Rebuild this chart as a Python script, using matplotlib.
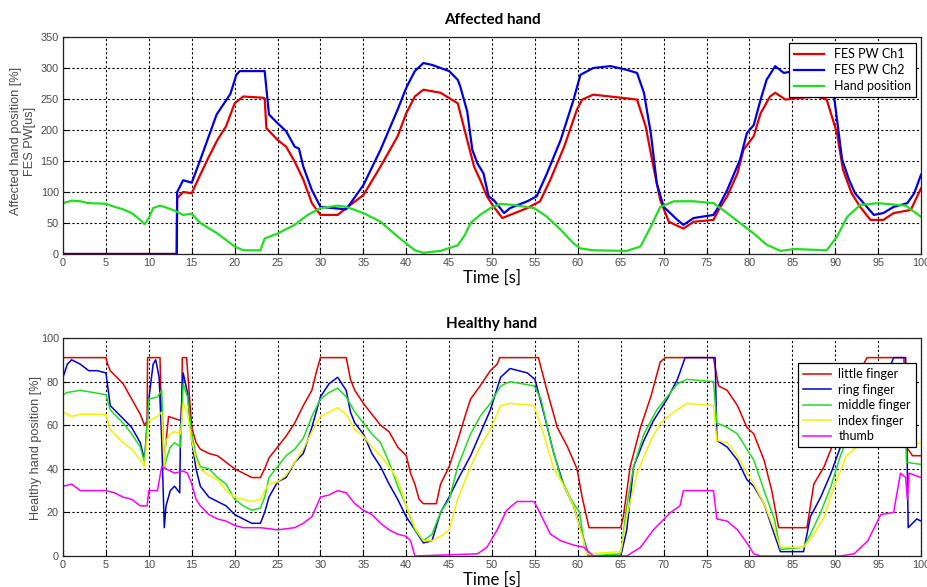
import numpy as np
import matplotlib
matplotlib.use('Agg')
import matplotlib.pyplot as plt

# values, (time [s], value)
ch1_pw = [(0, 0), (13.25, 0), (13.3, 90), (14, 100), (15, 98), (16, 128), (17, 157), (18, 184),
          (19, 206), (20, 243), (21, 254), (23.3, 252), (23.5, 251), (23.7, 203), (25, 184), (26, 173),
          (27, 149), (28, 120), (29, 82), (30, 63), (32, 63), (33, 74), (35, 95), (37, 141), (39, 190),
          (40, 227), (41, 254), (42, 265), (44, 260), (46, 243), (47.1, 184), (47.9, 141), (48.6, 120),
          (49.4, 93), (50.2, 76), (51.2, 58), (52.1, 63), (54.1, 74), (55.6, 85), (56.8, 120),
          (58.4, 173), (59.9, 233), (60.5, 249), (61.8, 257), (65.7, 251), (66.9, 249), (67.9, 206),
          (68.8, 141), (69.6, 87), (70.6, 52), (72.3, 41), (73.5, 52), (75.8, 55), (76.4, 71),
          (77.4, 93), (78.6, 130), (79.3, 168), (80.5, 190), (81.3, 227), (82.4, 254), (83, 260),
          (84.2, 249), (85.2, 251), (87.9, 254), (89, 249), (90.2, 195), (90.9, 136), (91.9, 98),
          (92.9, 76), (94.1, 55), (95.6, 55), (96.8, 66), (98.8, 71), (100, 106)]

ch2_pw = [(0, 0), (13.25, 0), (13.3, 100), (14, 119), (15, 115), (16, 152), (17.9, 225), (19.5, 258),
          (20.2, 289), (20.6, 295), (23.5, 295), (24, 225), (25, 211), (26, 198), (27, 173), (27.5, 170),
          (28, 141), (29, 103), (30, 76), (33, 72), (35, 111), (37, 168), (39, 233), (40, 268), (41, 295),
          (42, 308), (43, 305), (45, 295), (46, 281), (46.3, 270), (47.1, 230), (47.7, 168), (48.3, 146),
          (49, 130), (49.6, 93), (50.2, 87), (51.4, 66), (52.1, 74), (54.1, 85), (55.2, 93), (56.4, 130),
          (58, 184), (59.5, 249), (60.3, 289), (61.8, 300), (63.8, 303), (65.7, 297), (66.9, 292),
          (67.7, 260), (68.5, 195), (69.2, 114), (70, 76), (71.6, 55), (72.3, 47), (73.5, 58),
          (75.8, 63), (76.4, 76), (77.4, 103), (78.9, 152), (79.7, 195), (80.5, 208), (81.3, 249),
          (82, 281), (83, 303), (84, 292), (85.2, 295), (89.8, 260), (90.2, 217), (90.8, 152),
          (91.6, 120), (92.3, 98), (93.3, 82), (94.5, 63), (95.6, 66), (96.8, 76), (98.4, 82),
          (99.2, 98), (100, 128)]

hand_pos = [(0, 82), (1, 86), (2, 85), (3, 82), (5, 81), (6, 76), (7, 72), (8, 66), (9, 55), (9.5, 48),
            (10, 58), (10.5, 74), (11.3, 78), (12, 75), (13, 70), (14, 63), (15, 65), (16, 50), (18, 33),
            (20, 12), (21, 6), (23, 6), (23.5, 25), (25, 33), (27, 47), (28.5, 63), (30, 74), (32, 78),
            (33, 76), (35, 66), (37, 52), (39, 28), (41, 6), (42, 2), (44, 5), (46, 14), (46.8, 30),
            (47.5, 50), (48.6, 63), (49.8, 74), (51, 81), (52.5, 79), (54.9, 74), (56.4, 60), (58, 39),
            (59.5, 17), (60.3, 9), (61.8, 6), (65.7, 5), (67.3, 12), (68.5, 44), (69.6, 76), (71.2, 85),
            (73.5, 85), (75.8, 82), (77.4, 66), (78.9, 50), (80.5, 33), (82, 15), (83.6, 5), (85.2, 8),
            (89, 6), (90.2, 28), (91.4, 60), (92.9, 79), (95, 82), (98.2, 78), (100, 60)]

little = [(0, 91), (5, 91), (5.2, 88), (5.5, 85), (6, 83), (7, 79), (8, 72), (9, 65), (9.5, 60), (9.8, 62),
          (9.85, 91), (11.3, 91), (11.5, 60), (11.7, 41), (12.3, 64), (13.8, 62), (13.9, 91), (14.4, 91),
          (15, 59), (15.5, 52), (16, 49), (17, 47), (18, 46), (19, 43), (20, 40), (21, 38), (22, 36),
          (23, 36), (23.5, 40), (24, 45), (25, 50), (26, 55), (27, 61), (28, 69), (29, 76), (29.5, 84),
          (30, 91), (33, 91), (33.5, 81), (34, 76), (35, 70), (36, 65), (37, 60), (38, 57), (39, 50),
          (40, 46), (40.5, 38), (41, 33), (41.5, 26), (42, 24), (43.5, 24), (44, 33), (45, 41), (46, 53),
          (47, 66), (47.5, 72), (48.6, 78), (49.8, 85), (50.6, 88), (50.9, 91), (55.4, 91), (56.4, 76),
          (57.6, 59), (58.8, 50), (59.9, 40), (60.5, 27), (61.3, 13), (65, 13), (65.3, 18), (66.1, 41),
          (67.3, 59), (68.5, 73), (69.6, 89), (70.2, 91), (75.8, 91), (76.4, 78), (77.4, 76), (78.6, 69),
          (79.7, 59), (80.5, 56), (81.7, 44), (82.6, 30), (83.4, 13), (86.7, 13), (87.5, 33), (88.7, 41),
          (89.5, 49), (91, 65), (92.5, 82), (93.7, 91), (98, 91), (98.3, 50), (99, 46), (100, 46)]

ring = [(0, 82), (0.5, 88), (1, 90), (2, 88), (3, 85), (4, 85), (5, 84), (5.3, 75), (5.5, 69), (6, 67),
        (7, 63), (8, 59), (9, 52), (9.5, 44), (10, 72), (10.5, 88), (10.8, 90), (11.2, 82), (11.5, 53),
        (11.8, 13), (12, 23), (12.5, 30), (13, 32), (13.6, 29), (13.7, 60), (14, 84), (14.5, 75), (15, 53),
        (15.5, 40), (16, 32), (17, 27), (18, 25), (19, 23), (20, 19), (21, 17), (22, 15), (23, 15),
        (23.5, 20), (24, 27), (25, 34), (26, 36), (27, 43), (28, 47), (29, 59), (30, 73), (31, 79),
        (32, 82), (33, 76), (33.5, 66), (34, 61), (35, 56), (36, 47), (37, 41), (38, 33), (39, 26),
        (40, 18), (41, 12), (42, 6), (43, 7), (44, 20), (45, 27), (46, 35), (47.5, 46), (48.6, 56),
        (49.8, 67), (51, 82), (52.1, 86), (54.1, 84), (55, 81), (56, 66), (57.2, 47), (58.4, 32),
        (59.5, 23), (60.5, 10), (61.3, 0), (65, 0), (65.7, 12), (66.5, 41), (67.7, 53), (68.8, 62),
        (70.4, 72), (71.6, 81), (72.5, 91), (76, 91), (76.2, 53), (77.4, 50), (78.6, 44), (79.7, 35),
        (80.5, 32), (81.7, 24), (82.9, 10), (83.6, 2), (86.3, 2), (87.1, 18), (88.3, 27), (89.5, 38),
        (90.6, 50), (92, 65), (94, 80), (96.5, 88), (96.8, 91), (98.2, 91), (98.5, 13), (99.5, 17),
        (100, 16)]

middle = [(0, 74), (0.5, 75), (2, 76), (5, 74), (5.5, 67), (6, 65), (7, 61), (8, 56), (9, 50), (9.5, 43),
          (10, 72), (11, 73), (11.5, 76), (11.8, 40), (12, 44), (12.5, 50), (13, 52), (13.7, 50), (14, 79),
          (14.5, 73), (15, 56), (15.5, 46), (16, 41), (17, 40), (18, 36), (19, 33), (20, 26), (21, 23),
          (22, 21), (23, 22), (23.5, 27), (24, 36), (25, 41), (26, 46), (27, 49), (28, 54), (29, 64),
          (30, 72), (31, 75), (32, 77), (33, 73), (34, 66), (35, 61), (36, 56), (37, 52), (38, 43),
          (39, 32), (40, 23), (41, 12), (42, 7), (43, 10), (44, 20), (45, 26), (46, 41), (47.5, 56),
          (48.6, 64), (49.8, 70), (51, 78), (52.1, 80), (54.9, 78), (55.7, 72), (56.8, 53), (58, 36),
          (59.2, 26), (60.2, 20), (60.8, 4), (61.2, 0), (65, 1), (65.7, 23), (66.5, 41), (67.7, 56),
          (69.2, 67), (70.4, 73), (71.6, 79), (72.7, 81), (75.8, 80), (76.2, 61), (77.4, 59), (78.6, 56),
          (79.7, 49), (80.5, 44), (81.7, 30), (82.9, 17), (83.6, 3), (86.3, 4), (87.1, 10), (88.3, 20),
          (89.5, 32), (90.6, 46), (92, 60), (94, 72), (96, 78), (98, 80), (98.3, 43), (100, 42)]

index = [(0, 66), (1, 64), (2, 65), (5, 65), (5.5, 58), (6, 56), (7, 52), (8, 49), (9, 44), (9.5, 41),
         (10, 62), (11, 64), (11.5, 66), (11.8, 41), (12, 53), (12.5, 56), (13, 57), (13.7, 56), (14, 70),
         (14.5, 66), (15, 53), (15.5, 44), (16, 40), (17, 37), (18, 35), (19, 30), (20, 27), (21, 26),
         (22, 25), (23, 26), (23.5, 30), (24, 33), (25, 34), (26, 37), (27, 43), (28, 49), (29, 57),
         (30, 64), (31, 66), (32, 68), (33, 65), (34, 58), (35, 55), (36, 50), (37, 46), (38, 41),
         (39, 35), (40, 23), (41, 13), (42, 7), (43, 7), (44, 9), (45, 12), (46, 26), (47.5, 41),
         (48.6, 50), (49.8, 58), (51, 69), (52.1, 70), (54.9, 69), (56, 56), (57.2, 40), (58.4, 32),
         (59.5, 23), (60.3, 12), (61.1, 1), (65, 2), (65.7, 18), (66.9, 38), (68.5, 53), (69.6, 61),
         (71.2, 66), (72.7, 70), (75.8, 69), (76.2, 53), (77.4, 52), (78.6, 46), (79.7, 38), (80.5, 33),
         (81.7, 24), (82.9, 12), (83.6, 4), (86.3, 4), (87.5, 10), (88.7, 18), (89.7, 30), (91.3, 46),
         (92.5, 50), (95, 55), (98, 58), (98.3, 50), (100, 52)]

thumb = [(0, 32), (1, 33), (2, 30), (5, 30), (6, 29), (7, 27), (8, 26), (9, 23), (9.8, 23), (10, 30),
         (11, 30), (11.5, 41), (12, 40), (13, 38), (14, 39), (14.5, 38), (15, 33), (15.5, 26), (16, 23),
         (17, 19), (18, 17), (19, 16), (20, 14), (21, 13), (23, 13), (25, 12), (27, 13), (28, 15),
         (29, 18), (30, 27), (31, 28), (32, 30), (33, 29), (34, 24), (35, 21), (36, 19), (37, 15),
         (38, 12), (39, 10), (40, 9), (40.5, 7), (41, 0), (48.3, 1), (49.4, 4), (50.6, 12), (51.7, 21),
         (52.9, 25), (54.9, 25), (55.8, 18), (56.8, 10), (58, 7), (59.5, 5), (60.7, 4), (61.8, 0),
         (65.7, 0), (67.3, 4), (68.8, 12), (70.8, 20), (71.9, 23), (72.3, 30), (75.8, 30), (76.2, 17),
         (77.4, 16), (78.6, 12), (79.7, 6), (80.5, 1), (81.3, 0), (90.6, 0), (92.2, 1), (93.8, 7),
         (95.3, 19), (96.8, 20), (97.6, 38), (98.2, 36), (98.4, 26), (98.6, 38), (100, 36)]

top_series = [(ch1_pw, 'FES PW Ch1', '#e00000'),
              (ch2_pw, 'FES PW Ch2', '#0000e0'),
              (hand_pos, 'Hand position', '#22dd22')]
bottom_series = [(little, 'little finger', '#e00000'),
                 (ring, 'ring finger', '#0000d0'),
                 (middle, 'middle finger', '#22dd22'),
                 (index, 'index finger', '#f2f200'),
                 (thumb, 'thumb', '#ff00ff')]

TICK_C = '#4a4a4a'
LAB_FONT = ['Lato', 'DejaVu Sans']
NUM_FONT = ['Liberation Sans', 'DejaVu Sans']


def style_axes(ax, ymax, ystep):
    ax.set_xlim(0, 100)
    ax.set_ylim(0, ymax)
    ax.set_xticks(np.arange(0, 101, 5))
    ax.set_yticks(np.arange(0, ymax + 1, ystep))
    ax.grid(True, color='black', linestyle=(0, (2, 2)), linewidth=0.8)
    ax.tick_params(direction='in', length=4, width=0.8, colors='black',
                   labelcolor=TICK_C, labelsize=7.8, pad=3)
    for lab in ax.get_xticklabels() + ax.get_yticklabels():
        lab.set_family(NUM_FONT)
    for sp in ax.spines.values():
        sp.set_linewidth(0.9)
        sp.set_color('#222222')


fig = plt.figure(figsize=(9.27, 5.87), dpi=100)
ax1 = fig.add_axes([0.068, 0.5673, 0.9256, 0.3697])
ax2 = fig.add_axes([0.068, 0.0528, 0.9256, 0.3714])

for pts, name, col in top_series:
    arr = np.array(pts, dtype=float)
    ax1.plot(arr[:, 0], arr[:, 1], color=col, lw=1.6, label=name)
style_axes(ax1, 350, 50)
ax1.set_title('Affected hand', family=LAB_FONT, fontweight='bold', fontsize=11, pad=9)
ax1.set_xlabel('Time [s]', family=LAB_FONT, fontsize=12, labelpad=1)
ax1.set_ylabel('Affected hand position [%]\nFES PW[us]', family=NUM_FONT,
               fontsize=9.2, color=TICK_C, linespacing=1.25)
ax1.yaxis.set_label_coords(-0.031, 0.52)
leg1 = ax1.legend(loc='upper right', bbox_to_anchor=(0.994, 0.972), borderaxespad=0,
                  fancybox=False, framealpha=1, edgecolor='black', handlelength=2.4,
                  labelspacing=0.33, prop={'family': LAB_FONT, 'size': 9})
leg1.get_frame().set_linewidth(0.9)

for pts, name, col in bottom_series:
    arr = np.array(pts, dtype=float)
    ax2.plot(arr[:, 0], arr[:, 1], color=col, lw=1.1, label=name)
style_axes(ax2, 100, 20)
ax2.set_title('Healthy hand', family=LAB_FONT, fontweight='bold', fontsize=11, pad=7)
ax2.set_xlabel('Time [s]', family=LAB_FONT, fontsize=12, labelpad=1)
ax2.set_ylabel('Healthy hand position [%]', family=NUM_FONT,
               fontsize=9.1, color=TICK_C)
ax2.yaxis.set_label_coords(-0.024, 0.497)
leg2 = ax2.legend(loc='upper right', bbox_to_anchor=(0.994, 0.885), borderaxespad=0,
                  fancybox=False, framealpha=1, edgecolor='black', handlelength=2.2,
                  labelspacing=0.28, handletextpad=0.6, prop={'family': LAB_FONT, 'size': 9})
leg2.get_frame().set_linewidth(0.9)

fig.savefig('out.png', dpi=100)
